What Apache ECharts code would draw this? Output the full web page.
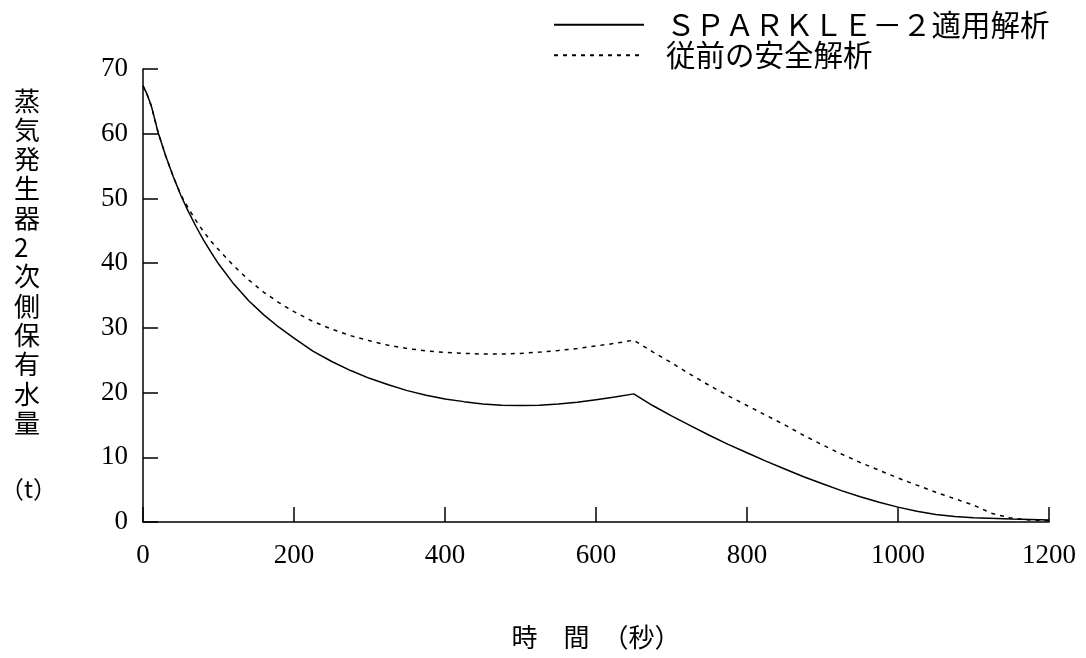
<!DOCTYPE html>
<html>
<head>
<meta charset="utf-8">
<script src="https://cdn.jsdelivr.net/npm/echarts@6/dist/echarts.min.js"></script>
<style>
  html, body { margin: 0; padding: 0; background: #fff; }
  #chart { width: 1086px; height: 658px; }
</style>
</head>
<body>
<div id="chart"></div>
<script>
// Time (s) and steam generator secondary-side inventory (t)
const sparkleTime = [0, 5, 11, 20, 30, 40, 50, 60, 70, 80, 90, 100, 120, 140, 160, 180, 200, 225, 250, 275, 300, 325, 350, 375, 400, 425, 450, 475, 500, 525, 550, 575, 600, 625, 650, 675, 700, 725, 750, 775, 800, 825, 850, 875, 900, 925, 950, 975, 1000, 1025, 1050, 1075, 1100, 1150, 1200];
const sparkleMass = [67.4, 66.2, 64.3, 60.2, 56.6, 53.4, 50.5, 48.0, 45.7, 43.6, 41.7, 39.9, 36.8, 34.2, 32.0, 30.1, 28.4, 26.4, 24.8, 23.4, 22.2, 21.2, 20.3, 19.6, 19.0, 18.6, 18.25, 18.05, 18.0, 18.05, 18.25, 18.5, 18.9, 19.3, 19.8, 18.0, 16.4, 14.9, 13.4, 12.0, 10.7, 9.4, 8.2, 7.0, 5.9, 4.85, 3.9, 3.05, 2.3, 1.65, 1.15, 0.85, 0.65, 0.45, 0.3];

const legacyTime = [0, 5, 11, 20, 30, 40, 50, 60, 70, 80, 90, 100, 120, 140, 160, 180, 200, 225, 250, 275, 300, 325, 350, 375, 400, 425, 450, 475, 500, 525, 550, 575, 600, 625, 650, 675, 700, 725, 750, 775, 800, 825, 850, 875, 900, 925, 950, 975, 1000, 1025, 1050, 1075, 1100, 1125, 1150, 1175, 1200];
const legacyMass = [67.4, 66.2, 64.3, 60.2, 56.6, 53.4, 50.6, 48.5, 46.6, 44.9, 43.4, 42.1, 39.6, 37.4, 35.5, 33.9, 32.5, 31.0, 29.8, 28.8, 28.0, 27.3, 26.8, 26.45, 26.2, 26.05, 25.95, 25.95, 26.05, 26.25, 26.5, 26.8, 27.2, 27.6, 28.1, 26.3, 24.6, 22.8, 21.1, 19.5, 18.0, 16.5, 15.0, 13.4, 11.9, 10.5, 9.2, 8.0, 6.8, 5.7, 4.6, 3.6, 2.6, 1.3, 0.6, 0.3, 0.2];

const xTicks = [0, 200, 400, 600, 800, 1000, 1200];
const yTicks = [0, 10, 20, 30, 40, 50, 60, 70];

const seriesNames = ['ＳＰＡＲＫＬＥ－２適用解析', '従前の安全解析'];
const yTitle = '蒸気発生器2次側保有水量';
const yUnit = '（t）';
const xTitle = '時　間　（秒）';

const pairs = (xs, ys) => xs.map((x, i) => [x, ys[i]]);

const numFont = 'Liberation Serif';
const cjkFont = 'Noto Sans CJK JP';

const chart = echarts.init(document.getElementById('chart'));
chart.setOption({
  animation: false,
  backgroundColor: '#fff',
  grid: { left: 143, right: 37, top: 69, bottom: 136, containLabel: false },
  legend: {
    orient: 'vertical',
    left: 548,
    top: 5,
    itemWidth: 90,
    itemHeight: 14,
    itemGap: 1,
    itemStyle: { opacity: 0 },
    textStyle: { fontFamily: cjkFont, fontSize: 29.5, color: '#000', padding: [0, 0, 0, 17] },
    data: seriesNames
  },
  xAxis: {
    type: 'value',
    min: 0,
    max: 1200,
    interval: 200,
    name: xTitle,
    nameLocation: 'middle',
    nameGap: 102,
    nameTextStyle: { fontFamily: cjkFont, fontSize: 26, color: '#000' },
    axisLine: { lineStyle: { color: '#000', width: 1.5 } },
    axisTick: { inside: true, length: 15, lineStyle: { color: '#000', width: 1.5 } },
    axisLabel: {
      margin: 20,
      fontFamily: numFont,
      fontSize: 27,
      color: '#000',
      formatter: v => String(v),
      customValues: xTicks
    },
    splitLine: { show: false }
  },
  yAxis: {
    type: 'value',
    min: 0,
    max: 70,
    interval: 10,
    axisLine: { show: true, lineStyle: { color: '#000', width: 1.5 } },
    axisTick: { show: true, inside: true, length: 15, lineStyle: { color: '#000', width: 1.5 } },
    axisLabel: {
      margin: 15,
      fontFamily: numFont,
      fontSize: 27,
      color: '#000',
      formatter: v => String(v),
      customValues: yTicks
    },
    splitLine: { show: false }
  },
  graphic: [
    {
      type: 'text',
      left: 14,
      top: 86,
      style: {
        text: yTitle.split('').join('\n'),
        fontFamily: cjkFont,
        fontSize: 26,
        lineHeight: 29.3,
        fill: '#000',
        align: 'center'
      }
    },
    {
      type: 'text',
      left: 0,
      top: 477,
      style: {
        text: yUnit,
        fontFamily: cjkFont,
        fontSize: 24,
        fill: '#000'
      }
    }
  ],
  series: [
    {
      name: seriesNames[0],
      type: 'line',
      data: pairs(sparkleTime, sparkleMass),
      smooth: false,
      showSymbol: false,
      symbol: 'none',
      lineStyle: { color: '#000', width: 1.5, type: 'solid' },
      itemStyle: { color: '#000' }
    },
    {
      name: seriesNames[1],
      type: 'line',
      data: pairs(legacyTime, legacyMass),
      smooth: false,
      showSymbol: false,
      symbol: 'none',
      lineStyle: { color: '#000', width: 1.5, type: [4, 5] },
      itemStyle: { color: '#000' }
    }
  ]
});
</script>
</body>
</html>
